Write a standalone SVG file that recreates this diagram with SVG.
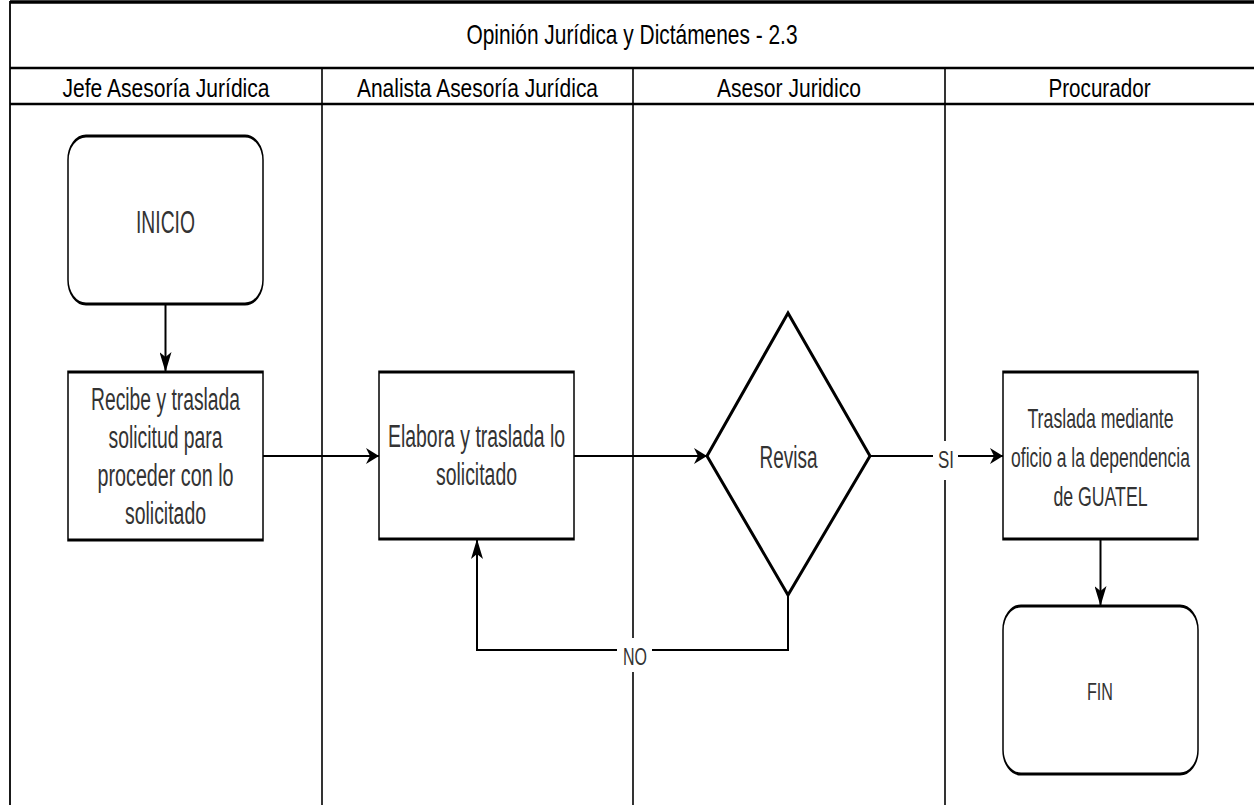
<svg xmlns="http://www.w3.org/2000/svg" width="1254" height="805" viewBox="0 0 1254 805">
<style>
  .frame { stroke: #000; fill: none; }
  .hdr { font-family: "Liberation Sans", Arial, sans-serif; fill: #000; text-anchor: middle; }
  .txt { font-family: "Liberation Sans", Arial, sans-serif; fill: #333; text-anchor: middle; }
  .box { fill: #fff; stroke: #000; stroke-width: 3; }
  .dia { fill: #fff; stroke: #000; stroke-width: 3; stroke-linejoin: miter; }
  .conn { fill: none; stroke: #000; stroke-width: 2; }
  .lblbg { fill: #fff; stroke: none; }
</style>
<defs>
  <marker id="arrV" markerUnits="userSpaceOnUse" markerWidth="20" markerHeight="12" refX="20" refY="6" orient="auto">
    <path d="M0,0 L20,6 L0,12 L5,6 Z" fill="#000"/>
  </marker>
  <marker id="arrH" markerUnits="userSpaceOnUse" markerWidth="13" markerHeight="16" refX="13" refY="8" orient="auto">
    <path d="M0,0 L13,8 L0,16 L4,8 Z" fill="#000"/>
  </marker>
</defs>
<rect width="1254" height="805" fill="#fff"/>

<g id="pool">
  <line class="frame" x1="10" y1="2" x2="1254" y2="2" stroke-width="3.5"/>
  <line class="frame" x1="10" y1="68" x2="1254" y2="68" stroke-width="2.5"/>
  <line class="frame" x1="10" y1="104" x2="1254" y2="104" stroke-width="2.5"/>
  <line class="frame" x1="10" y1="1" x2="10" y2="805" stroke-width="1.8"/>
  <line class="frame" x1="322" y1="68" x2="322" y2="805" stroke-width="1.6"/>
  <line class="frame" x1="633" y1="68" x2="633" y2="805" stroke-width="1.6"/>
  <line class="frame" x1="945" y1="68" x2="945" y2="805" stroke-width="1.6"/>
  <text class="hdr" x="632" y="44" font-size="28" textLength="331" lengthAdjust="spacingAndGlyphs">Opinión Jurídica y Dictámenes - 2.3</text>
  <text class="hdr" x="166" y="97" font-size="26" textLength="207" lengthAdjust="spacingAndGlyphs">Jefe Asesoría Jurídica</text>
  <text class="hdr" x="477.5" y="97" font-size="26" textLength="241" lengthAdjust="spacingAndGlyphs">Analista Asesoría Jurídica</text>
  <text class="hdr" x="789" y="97" font-size="26" textLength="144" lengthAdjust="spacingAndGlyphs">Asesor Juridico</text>
  <text class="hdr" x="1099.5" y="97" font-size="26" textLength="102" lengthAdjust="spacingAndGlyphs">Procurador</text>
</g>

<g id="connectors">
  <path class="conn" d="M165.5,304 L165.5,372" marker-end="url(#arrV)"/>
  <path class="conn" d="M263,456 L379,456" stroke-width="2.4" marker-end="url(#arrH)"/>
  <path class="conn" d="M574,456 L707,456" stroke-width="2.4" marker-end="url(#arrH)"/>
  <path class="conn" d="M870,456 L1003,456" stroke-width="2.4" marker-end="url(#arrH)"/>
  <path class="conn" d="M788,595 L788,650 L477,650 L477,539" marker-end="url(#arrV)"/>
  <path class="conn" d="M1100.5,539 L1100.5,606" marker-end="url(#arrV)"/>
  <rect class="lblbg" x="933" y="441" width="25" height="39"/>
  <text class="txt" x="946" y="468" font-size="24" textLength="16" lengthAdjust="spacingAndGlyphs">SI</text>
  <rect class="lblbg" x="617" y="638" width="35" height="34"/>
  <text class="txt" x="635" y="665" font-size="24" textLength="24" lengthAdjust="spacingAndGlyphs">NO</text>
</g>

<g id="inicio">
  <rect class="box" transform="scale(0.5 1)" x="136" y="136" width="390" height="168" rx="36" ry="24"/>
  <text class="txt" x="165.5" y="233" font-size="31" textLength="59" lengthAdjust="spacingAndGlyphs">INICIO</text>
</g>

<g id="recibe">
  <rect class="box" transform="scale(0.5 1)" x="136" y="372" width="390" height="168"/>
  <text class="txt" x="165.5" y="410" font-size="31" textLength="149" lengthAdjust="spacingAndGlyphs">Recibe y traslada</text>
  <text class="txt" x="165.5" y="448" font-size="31" textLength="114" lengthAdjust="spacingAndGlyphs">solicitud para</text>
  <text class="txt" x="165.5" y="486" font-size="31" textLength="136" lengthAdjust="spacingAndGlyphs">proceder con lo</text>
  <text class="txt" x="165.5" y="524" font-size="31" textLength="81" lengthAdjust="spacingAndGlyphs">solicitado</text>
</g>

<g id="elabora">
  <rect class="box" transform="scale(0.5 1)" x="758" y="372" width="390" height="167"/>
  <text class="txt" x="476.5" y="447" font-size="31" textLength="177" lengthAdjust="spacingAndGlyphs">Elabora y traslada lo</text>
  <text class="txt" x="476.5" y="485" font-size="31" textLength="81" lengthAdjust="spacingAndGlyphs">solicitado</text>
</g>

<g id="revisa">
  <polygon class="dia" points="788,313 870,456 788,595 707,456"/>
  <text class="txt" x="788.5" y="468" font-size="31" textLength="58" lengthAdjust="spacingAndGlyphs">Revisa</text>
</g>

<g id="traslada">
  <rect class="box" transform="scale(0.5 1)" x="2006" y="372" width="390" height="167"/>
  <text class="txt" transform="translate(1100.5,428) scale(0.633,1)" font-size="28">Traslada mediante</text>
  <text class="txt" transform="translate(1100.5,467) scale(0.625,1)" font-size="28">oficio a la dependencia</text>
  <text class="txt" transform="translate(1100.5,506) scale(0.633,1)" font-size="28">de GUATEL</text>
</g>

<g id="fin">
  <rect class="box" transform="scale(0.5 1)" x="2006" y="606" width="390" height="168" rx="36" ry="24"/>
  <text class="txt" x="1100" y="700" font-size="24" textLength="26" lengthAdjust="spacingAndGlyphs">FIN</text>
</g>
</svg>
